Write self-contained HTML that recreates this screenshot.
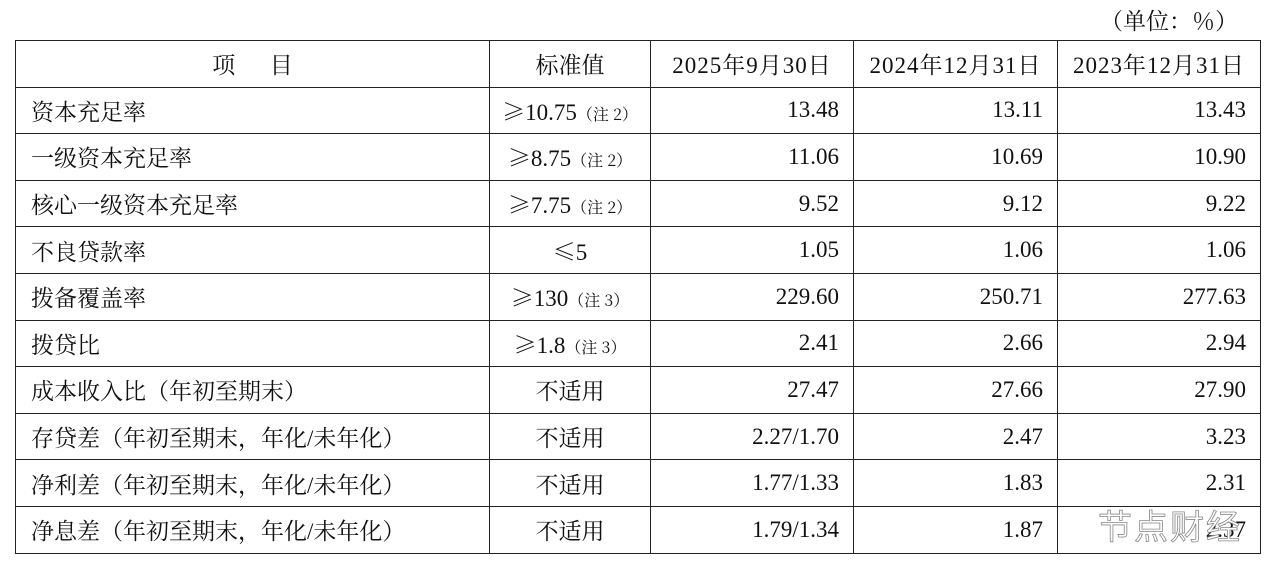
<!DOCTYPE html>
<html><head><meta charset="utf-8"><style>
body{margin:0;width:1276px;height:568px;background:#fff;position:relative;overflow:hidden;font-family:"Liberation Serif","Noto Serif CJK SC",serif;color:#111;}
.unit{position:absolute;left:1100px;top:3px;font-size:23px;}
table{position:absolute;left:15px;top:40px;border-collapse:collapse;table-layout:fixed;}
td{border:1.5px solid #222;height:45.6px;padding:0;font-size:23px;white-space:nowrap;}
td.l{padding-left:15px;}
td.c{text-align:center;}
td.r{text-align:right;padding-right:14px;}
small{font-size:16px;font-family:"Noto Serif CJK SC","Liberation Serif",serif;}
.g{font-family:"Noto Serif CJK SC",serif;}
.h{letter-spacing:1px;}
.wm{position:absolute;left:1098px;top:500px;font-family:"Noto Sans CJK SC",sans-serif;font-size:34px;color:#fff;letter-spacing:2px;-webkit-text-stroke:0.8px #888;}
</style></head><body>
<div class="unit">（单位：％）</div>
<table>
<colgroup><col style="width:474px"><col style="width:161px"><col style="width:203px"><col style="width:204px"><col style="width:203px"></colgroup>
<tr><td class="c">项&emsp;&ensp;目</td><td class="c">标准值</td><td class="c h">2025年9月30日</td><td class="c h">2024年12月31日</td><td class="c h">2023年12月31日</td></tr>
<tr><td class="l">资本充足率</td><td class="c"><span class="g">≥</span>10.75<small>（注 2）</small></td><td class="r">13.48</td><td class="r">13.11</td><td class="r">13.43</td></tr>
<tr><td class="l">一级资本充足率</td><td class="c"><span class="g">≥</span>8.75<small>（注 2）</small></td><td class="r">11.06</td><td class="r">10.69</td><td class="r">10.90</td></tr>
<tr><td class="l">核心一级资本充足率</td><td class="c"><span class="g">≥</span>7.75<small>（注 2）</small></td><td class="r">9.52</td><td class="r">9.12</td><td class="r">9.22</td></tr>
<tr><td class="l">不良贷款率</td><td class="c"><span class="g">≤</span>5</td><td class="r">1.05</td><td class="r">1.06</td><td class="r">1.06</td></tr>
<tr><td class="l">拨备覆盖率</td><td class="c"><span class="g">≥</span>130<small>（注 3）</small></td><td class="r">229.60</td><td class="r">250.71</td><td class="r">277.63</td></tr>
<tr><td class="l">拨贷比</td><td class="c"><span class="g">≥</span>1.8<small>（注 3）</small></td><td class="r">2.41</td><td class="r">2.66</td><td class="r">2.94</td></tr>
<tr><td class="l">成本收入比（年初至期末）</td><td class="c">不适用</td><td class="r">27.47</td><td class="r">27.66</td><td class="r">27.90</td></tr>
<tr><td class="l">存贷差（年初至期末，年化/未年化）</td><td class="c">不适用</td><td class="r">2.27/1.70</td><td class="r">2.47</td><td class="r">3.23</td></tr>
<tr><td class="l">净利差（年初至期末，年化/未年化）</td><td class="c">不适用</td><td class="r">1.77/1.33</td><td class="r">1.83</td><td class="r">2.31</td></tr>
<tr><td class="l">净息差（年初至期末，年化/未年化）</td><td class="c">不适用</td><td class="r">1.79/1.34</td><td class="r">1.87</td><td class="r">2.37</td></tr>
</table>
<div class="wm">节点财经</div>
</body></html>
